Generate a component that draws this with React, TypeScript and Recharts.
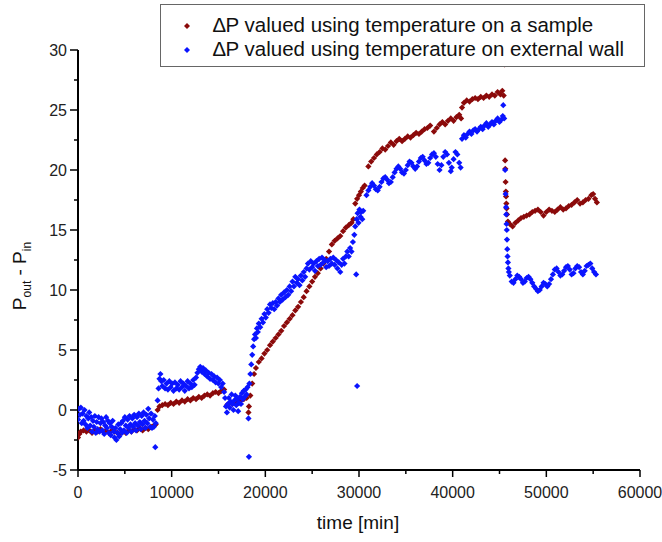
import React from 'react';
import { ScatterChart, Scatter, XAxis, YAxis } from 'recharts';

// ΔP valued using temperature on a sample  [time (min), ΔP]
const samplePoints: [number, number][] = [
  [0,-2.3],[150,-2.0],[300,-1.8],[600,-1.7],[900,-1.8],[1200,-1.7],[1500,-1.9],[1800,-1.7],[2100,-1.8],[2400,-1.6],
  [2700,-1.8],[3000,-1.7],[3300,-1.9],[3600,-1.7],[3900,-1.8],[4200,-1.9],[4500,-2.0],[4800,-1.8],[5100,-1.9],[5400,-1.7],
  [5700,-1.8],[6000,-1.6],[6300,-1.7],[6600,-1.5],[6900,-1.7],[7200,-1.5],[7500,-1.6],[7800,-1.4],[8100,-1.3],[8300,-1.2],
  [8500,0.0],[8700,0.3],[9000,0.4],[9300,0.5],[9600,0.4],[9900,0.6],[10200,0.5],[10500,0.7],[10800,0.6],[11100,0.8],
  [11400,0.7],[11700,0.9],[12000,0.8],[12300,1.0],[12600,0.9],[12900,1.1],[13200,1.0],[13500,1.2],[13800,1.3],[14100,1.2],
  [14400,1.4],[14700,1.5],[15000,1.4],[15300,1.6],[15600,1.7],
  [15900,0.4],[16200,0.6],[16500,0.5],[16800,0.7],[17100,0.6],[17400,0.8],[17700,0.9],[18000,1.0],[18200,-0.2],[18250,0.3],
  [18400,1.2],[18600,2.2],[18800,3.0],[19000,3.5],[19300,4.0],[19600,4.3],[19900,4.7],[20200,5.0],[20500,5.4],[20800,5.7],
  [21100,6.0],[21400,6.3],[21700,6.6],[22000,7.0],[22300,7.3],[22600,7.6],[22900,7.9],[23200,8.3],[23500,8.6],[23800,9.0],
  [24100,9.4],[24400,9.9],[24700,10.3],[25000,10.7],[25300,11.1],[25600,11.4],[25900,11.8],[26200,12.2],[26500,12.6],[26800,13.2],
  [27100,13.8],[27400,14.1],[27700,14.3],[28000,14.5],[28300,14.9],[28600,15.2],[28900,15.4],[29200,15.6],[29400,15.9],
  [29600,17.2],[29800,17.6],[30000,17.9],[30200,18.2],[30400,18.5],[30600,18.7],
  [31000,20.3],[31300,20.7],[31600,21.0],[31900,21.3],[32200,21.5],[32500,21.8],[32800,21.7],[33100,22.0],[33400,22.3],[33700,22.1],
  [34000,22.4],[34300,22.6],[34600,22.4],[34900,22.6],[35200,22.8],[35500,22.7],[35800,22.9],[36100,23.1],[36400,23.0],[36700,23.2],
  [37000,23.4],[37300,23.5],[37600,23.7],[38000,23.2],[38300,23.5],[38600,23.8],[38900,24.0],[39200,23.8],[39500,24.1],[39800,24.3],
  [40100,24.1],[40400,24.4],[40700,24.6],[40900,24.3],[41000,25.2],
  [41200,25.6],[41500,25.8],[41800,25.7],[42100,25.9],[42400,26.0],[42700,25.9],[43000,26.1],[43300,26.0],[43600,26.2],[43900,26.1],
  [44200,26.3],[44500,26.2],[44800,26.5],[45100,26.3],[45300,26.6],[45450,26.2],[45550,28.8],
  [45600,20.8],[45620,20.1],[45650,19.0],[45680,18.2],[45700,17.8],[45730,17.2],[45760,16.8],[45800,16.3],
  [45900,15.7],[46100,15.5],[46400,15.3],[46700,15.6],[47000,15.8],[47300,16.0],[47600,16.1],[47900,16.2],[48200,16.3],[48500,16.5],
  [48800,16.6],[49100,16.7],[49400,16.5],[49700,16.2],[50000,16.5],[50300,16.7],[50600,16.6],[50900,16.5],[51200,16.7],[51500,16.9],
  [51800,16.7],[52100,16.8],[52400,17.0],[52700,17.1],[53000,17.3],[53300,17.5],[53600,17.2],[53900,17.3],[54200,17.5],[54500,17.6],
  [54800,17.9],[55000,18.0],[55200,17.6],[55400,17.3],
];

// ΔP valued using temperature on external wall  [time (min), ΔP]
const wallPoints: [number, number][] = [
  [0,-0.8],[100,0.1],[200,-0.4],[300,0.2],[400,-1.1],[500,-0.3],[600,-0.9],[700,0.0],[800,-1.2],[900,-0.5],
  [1000,-1.5],[1100,-0.7],[1200,-0.2],[1300,-1.3],[1400,-0.6],[1500,-1.8],[1600,-0.9],[1700,-1.4],[1800,-0.5],[1900,-1.9],
  [2000,-1.0],[2100,-1.6],[2200,-0.6],[2300,-1.8],[2400,-1.1],[2500,-0.7],[2600,-1.7],[2700,-1.0],[2800,-2.0],[2900,-1.3],
  [3000,-0.6],[3100,-1.5],[3200,-0.9],[3300,-1.9],[3400,-1.1],[3500,-2.1],[3600,-1.4],[3700,-0.9],[3800,-1.8],[3900,-2.3],
  [4000,-1.5],[4100,-2.5],[4200,-1.9],[4300,-1.2],[4400,-2.2],[4500,-1.6],[4600,-1.1],[4700,-1.9],[4800,-0.9],[4900,-1.7],
  [5000,-0.6],[5100,-1.3],[5200,-1.9],[5300,-0.8],[5400,-1.5],[5500,-0.5],[5600,-1.2],[5700,-1.8],[5800,-0.7],[5900,-1.4],
  [6000,-0.4],[6100,-1.1],[6200,-1.7],[6300,-0.6],[6400,-1.3],[6500,-0.3],[6600,-1.0],[6700,-1.6],[6800,-0.5],[6900,-1.2],
  [7000,-0.2],[7100,-0.9],[7200,-1.5],[7300,-0.4],[7400,-1.1],[7500,0.1],[7600,-0.7],[7700,-1.4],[7800,-0.3],[7900,-1.5],
  [8000,-0.8],[8100,-1.4],[8200,-0.5],[8250,-3.1],[8300,-1.1],
  [8500,0.8],[8600,1.8],[8700,2.6],[8800,3.0],[8900,2.4],[9000,2.0],[9150,2.5],[9300,1.8],[9450,2.2],[9600,1.7],
  [9750,2.4],[9900,1.9],[10050,2.2],[10200,1.6],[10350,2.3],[10500,1.8],[10650,2.1],[10800,1.7],[10950,2.4],[11100,1.9],
  [11250,2.2],[11400,1.6],[11550,2.0],[11700,2.4],[11850,1.8],[12000,2.2],[12150,1.9],[12300,2.5],[12450,2.1],[12600,2.7],
  [12750,3.1],[12900,3.4],[13050,3.6],[13200,3.2],[13350,3.5],[13500,3.0],[13650,3.3],[13800,2.8],[13950,3.1],[14100,2.6],
  [14250,3.0],[14400,2.5],[14550,2.8],[14700,2.3],[14850,2.7],[15000,2.2],[15150,2.5],[15300,1.9],[15450,2.2],[15600,1.5],[15700,1.0],
  [15800,0.3],[15900,-0.2],[16000,0.5],[16100,1.0],[16200,0.2],[16300,0.7],[16400,1.3],[16500,0.5],[16600,0.0],[16700,0.8],
  [16800,1.2],[16900,0.4],[17000,0.9],[17100,-0.1],[17200,0.6],[17300,1.1],[17400,0.5],[17500,1.4],[17600,0.9],[17700,1.6],
  [17800,1.1],[17900,1.7],[18000,1.3],[18100,1.9],[18200,-0.7],[18250,-3.9],[18300,2.2],
  [18400,3.0],[18500,3.8],[18600,4.6],[18700,5.3],[18800,5.9],[18900,6.3],[19000,6.0],[19100,6.8],[19200,6.5],[19300,7.2],
  [19450,6.9],[19600,7.6],[19750,7.3],[19900,8.0],[20050,7.7],[20200,8.4],[20350,8.1],[20500,8.8],[20650,8.5],[20800,8.9],
  [20950,8.4],[21100,9.0],[21250,8.7],[21400,9.3],[21550,9.0],[21700,9.6],[21850,9.2],[22000,9.8],[22150,9.4],[22300,10.0],
  [22450,9.6],[22600,10.3],[22750,9.9],[22900,10.7],[23050,10.3],[23200,11.1],[23350,10.6],[23500,10.9],[23650,10.4],[23800,11.2],
  [23950,10.8],[24100,11.5],[24250,11.1],[24400,11.8],[24550,12.2],[24700,11.7],[24850,12.4],[25000,11.9],[25150,12.2],[25300,11.6],
  [25450,12.4],[25600,12.0],[25750,12.6],[25900,12.1],[26050,12.7],[26200,12.3],[26350,12.5],[26500,11.9],[26650,12.4],[26800,12.0],
  [26950,12.6],[27100,12.2],[27250,12.7],[27400,12.1],[27550,12.5],[27700,11.8],[27850,12.3],[28000,11.5],[28150,12.1],[28300,12.6],
  [28450,12.2],[28600,12.8],[28750,13.2],[28900,12.8],[29050,13.5],[29200,13.2],[29350,14.0],[29500,14.6],[29600,15.3],[29700,11.3],
  [29750,15.9],[29800,2.0],[29850,16.4],[29950,15.6],[30050,16.7],[30150,16.1],[30250,16.5],[30350,15.9],[30450,16.6],
  [30800,17.9],[31000,18.3],[31200,18.6],[31400,18.9],[31600,18.7],[31800,18.4],[32000,18.3],[32200,18.6],[32400,19.0],[32600,19.3],
  [32800,19.4],[33000,19.2],[33200,18.9],[33400,19.0],[33600,19.4],[33800,19.8],[34000,20.1],[34200,20.3],[34400,20.1],[34600,19.8],
  [34800,19.7],[35000,20.0],[35200,20.4],[35400,20.7],[35600,20.6],[35800,20.3],[36000,20.1],[36200,20.3],[36400,20.7],[36600,21.0],
  [36800,21.1],[37000,20.8],[37200,20.5],[37400,20.6],[37600,21.0],[37800,21.3],[38000,21.4],[38200,21.1],[38400,20.5],[38600,20.0],
  [38800,20.4],[39000,21.1],[39200,21.5],[39400,21.3],[39600,20.6],[39800,19.9],[39900,20.2],[40100,20.9],[40300,21.5],[40500,21.3],
  [40700,20.6],[40850,20.2],
  [41000,22.6],[41200,22.9],[41400,22.7],[41600,23.0],[41800,23.2],[42000,23.0],[42200,23.3],[42400,23.4],[42600,23.2],[42800,23.4],
  [43000,23.6],[43200,23.4],[43400,23.7],[43600,23.9],[43800,23.6],[44000,23.8],[44200,24.0],[44400,23.8],[44600,24.1],[44800,24.3],
  [45000,24.0],[45200,24.2],[45350,24.5],[45400,25.4],[45500,24.3],
  [45600,20.0],[45650,18.0],[45700,16.9],[45720,16.3],[45750,15.5],[45780,15.0],[45800,14.2],[45830,13.4],[45860,12.8],[45900,12.3],
  [45950,11.8],[46000,11.5],
  [46100,11.2],[46300,10.7],[46500,10.6],[46700,10.9],[46900,11.2],[47100,11.1],[47300,10.9],[47500,10.6],[47700,10.7],[47900,11.0],
  [48100,11.1],[48300,10.9],[48500,10.6],[48700,10.3],[48900,10.1],[49100,9.9],[49300,10.0],[49500,10.3],[49700,10.6],[49900,10.5],
  [50100,10.3],[50300,10.5],[50500,10.9],[50700,11.3],[50900,11.7],[51100,11.8],[51300,11.5],[51500,11.2],[51700,11.3],[51900,11.6],
  [52100,11.9],[52300,12.0],[52500,11.7],[52700,11.3],[52900,11.4],[53100,11.8],[53300,12.0],[53500,11.9],[53700,11.5],[53900,11.3],
  [54100,11.6],[54300,12.0],[54500,12.1],[54700,12.2],[54900,11.8],[55100,11.5],[55300,11.3],
];

const xTicks = [0, 5000, 10000, 15000, 20000, 25000, 30000, 35000, 40000, 45000, 50000, 55000, 60000];
const yTicks = [-5, -2.5, 0, 2.5, 5, 7.5, 10, 12.5, 15, 17.5, 20, 22.5, 25, 27.5, 30];

const sampleLabel = '\u2206P valued using temperature on a sample';
const wallLabel = '\u2206P valued using temperature on external wall';
const xTitle = 'time [min]';

const SAMPLE_COLOR = '#8b0a0a';
const WALL_COLOR = '#0a14ff';
const FONT = '"Liberation Sans", Arial, sans-serif';

const sampleData = samplePoints.map(([t, dp]) => ({ t, dp }));
const wallData = wallPoints.map(([t, dp]) => ({ t, dp }));

const diamond = (color: string) => (props: any) => {
  const { cx, cy } = props;
  if (cx == null || cy == null) return <g />;
  const r = 3.1;
  return <path d={`M${cx},${cy - r}L${cx + r},${cy}L${cx},${cy + r}L${cx - r},${cy}Z`} fill={color} />;
};

const XTick = (props: any) => {
  const { x, y, payload } = props;
  const major = payload.value % 10000 === 0;
  return (
    <g>
      <line x1={x} x2={x} y1={y} y2={y + (major ? 7 : 4)} stroke="#000" strokeWidth={1.5} />
      {major && (
        <text x={x} y={y + 28} textAnchor="middle" fontSize={16} fill="#222" fontFamily={FONT}>
          {payload.value}
        </text>
      )}
    </g>
  );
};

const YTick = (props: any) => {
  const { x, y, payload } = props;
  const major = payload.value % 5 === 0;
  return (
    <g>
      <line x1={x} x2={x - (major ? 8 : 4)} y1={y} y2={y} stroke="#000" strokeWidth={1.5} />
      {major && (
        <text x={x - 11} y={y + 6} textAnchor="end" fontSize={16} fill="#222" fontFamily={FONT}>
          {payload.value}
        </text>
      )}
    </g>
  );
};

const LegendMark = ({ color }: { color: string }) => (
  <svg width={8} height={8} style={{ position: 'absolute', left: -4, top: -4 }}>
    <path d="M4,1L7,4L4,7L1,4Z" fill={color} />
  </svg>
);

export default function App() {
  return (
    <div style={{ position: 'absolute', left: 0, top: 0, width: 662, height: 542, background: '#fff' }}>
      <ScatterChart width={662} height={542} margin={{ top: 50, right: 22, bottom: 42, left: 18 }}>
        <XAxis
          dataKey="t"
          type="number"
          domain={[0, 60000]}
          ticks={xTicks}
          interval={0}
          tickSize={0}
          tickMargin={0}
          tickLine={false}
          tick={<XTick />}
          axisLine={{ stroke: '#000', strokeWidth: 2 }}
          height={30}
          allowDataOverflow
          label={{
            content: () => (
              <text x={358} y={529} textAnchor="middle" fontSize={19} fill="#111" fontFamily={FONT}>
                {xTitle}
              </text>
            ),
          }}
        />
        <YAxis
          dataKey="dp"
          type="number"
          domain={[-5, 30]}
          ticks={yTicks}
          interval={0}
          tickSize={0}
          tickMargin={0}
          tickLine={false}
          tick={<YTick />}
          axisLine={{ stroke: '#000', strokeWidth: 2 }}
          width={60}
          allowDataOverflow
          label={{
            content: () => (
              <text
                x={26}
                y={276}
                textAnchor="middle"
                fontSize={19}
                fill="#111"
                fontFamily={FONT}
                transform="rotate(-90, 26, 276)"
              >
                P<tspan fontSize={12} dy={5}>out</tspan>
                <tspan dy={-5}> - P</tspan>
                <tspan fontSize={12} dy={5}>in</tspan>
              </text>
            ),
          }}
        />
        <Scatter data={sampleData} isAnimationActive={false} shape={diamond(SAMPLE_COLOR)} />
        <Scatter data={wallData} isAnimationActive={false} shape={diamond(WALL_COLOR)} />
      </ScatterChart>
      <div
        style={{
          position: 'absolute',
          left: 160,
          top: 4,
          width: 485,
          height: 63,
          border: '1px solid #666',
          background: '#fff',
          fontFamily: FONT,
          fontSize: 20.5,
          color: '#111',
          boxSizing: 'border-box',
        }}
      >
        <div style={{ position: 'absolute', left: 26, top: 21 }}>
          <LegendMark color={SAMPLE_COLOR} />
        </div>
        <div style={{ position: 'absolute', left: 52, top: 8, whiteSpace: 'nowrap', lineHeight: '24px' }}>{sampleLabel}</div>
        <div style={{ position: 'absolute', left: 26, top: 45 }}>
          <LegendMark color={WALL_COLOR} />
        </div>
        <div style={{ position: 'absolute', left: 52, top: 32, whiteSpace: 'nowrap', lineHeight: '24px' }}>{wallLabel}</div>
      </div>
    </div>
  );
}
